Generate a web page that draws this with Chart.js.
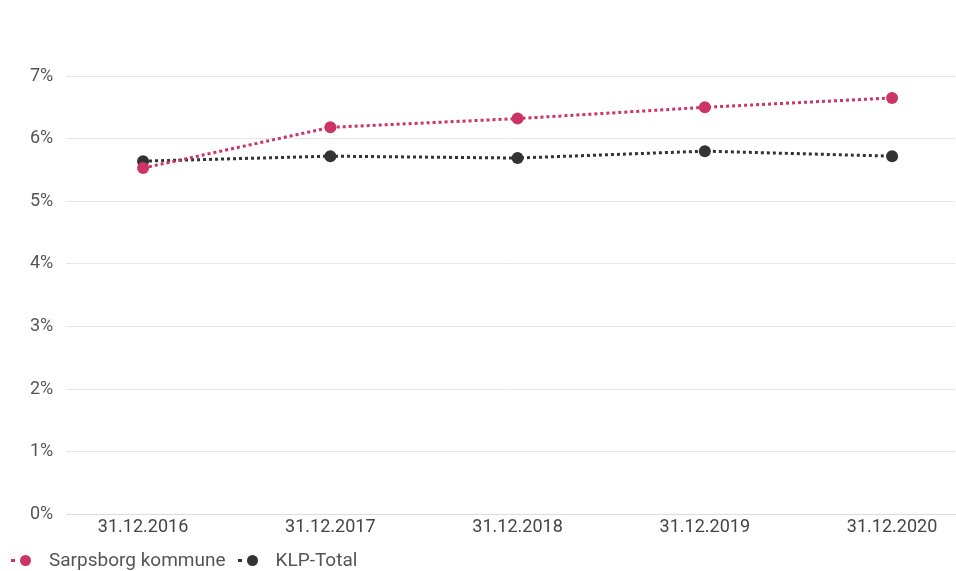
<!DOCTYPE html>
<html>
<head>
<meta charset="utf-8">
<script src="https://cdn.jsdelivr.net/npm/chart.js@4/dist/chart.umd.min.js"></script>
<style>
  html, body { margin: 0; padding: 0; background: #ffffff; overflow: hidden; }
  #wrap { position: relative; width: 956px; height: 571px; }
  #chart { display: block; }
  #legend {
    position: absolute; left: 11px; top: 548px;
    font-family: Roboto, sans-serif; font-size: 19px; line-height: 24px; color: #555555;
    display: flex; align-items: center;
  }
  .item { display: flex; align-items: center; margin-right: 12px; }
  .dash { width: 4px; height: 3px; margin-right: 5px; }
  .dot { width: 11px; height: 11px; border-radius: 50%; margin-right: 18px; }
</style>
</head>
<body>
<div id="wrap">
  <canvas id="chart"></canvas>
  <div id="legend"></div>
</div>
<script>
// Datoer (kategorier) og verdier i prosent
const labels = ['31.12.2016', '31.12.2017', '31.12.2018', '31.12.2019', '31.12.2020'];
const sarpsborg = [5.53, 6.18, 6.32, 6.50, 6.65];
const klpTotal = [5.64, 5.72, 5.69, 5.80, 5.72];
const yTicks = [0, 1, 2, 3, 4, 5, 6, 7];
const seriesNames = ['Sarpsborg kommune', 'KLP-Total'];

const PINK = '#cc3366';
const DARK = '#333333';
const FONT = 'Roboto';

const toPoints = (arr) => arr.map((v, i) => ({ x: i, y: v }));

const lineStyle = (color) => ({
  borderColor: color,
  backgroundColor: color,
  borderWidth: 3,
  borderDash: [3, 3],
  pointRadius: 6,
  pointHoverRadius: 6,
  pointBorderWidth: 0,
  fill: false,
});

const chart = new Chart(document.getElementById('chart'), {
  type: 'line',
  data: {
    datasets: [
      { label: seriesNames[0], data: toPoints(sarpsborg), ...lineStyle(PINK) },
      { label: seriesNames[1], data: toPoints(klpTotal), ...lineStyle(DARK) },
    ],
  },
  options: {
    responsive: true,
    maintainAspectRatio: false,
    animation: false,
    layout: { autoPadding: false, padding: { left: 17, right: 1, top: 76, bottom: 39 } },
    plugins: {
      legend: { display: false },
      tooltip: { enabled: false },
    },
    scales: {
      x: {
        type: 'linear',
        min: -0.41,
        max: 4.336,
        afterBuildTicks: (scale) => {
          scale.ticks = labels.map((_, i) => ({ value: i }));
        },
        afterFit: (scale) => {
          scale.paddingRight = 0;
        },
        ticks: {
          color: '#444444',
          font: { family: FONT, size: 18 },
          padding: -6,
          maxRotation: 0,
          callback: (v) => labels[v] ?? '',
        },
        grid: { display: false },
        border: { display: true, color: '#dddddd', dash: [2, 2] },
      },
      y: {
        min: 0,
        max: 7,
        afterBuildTicks: (scale) => {
          scale.ticks = yTicks.map(v => ({ value: v }));
        },
        ticks: {
          color: '#555555',
          font: { family: FONT, size: 18 },
          padding: 13,
          callback: (v) => `${v}%`,
        },
        grid: { color: '#e6e6e6', drawTicks: false },
        border: { display: false },
      },
    },
  },
});

// Legende som HTML, farger hentes fra datasettene
const legendEl = document.getElementById('legend');
chart.data.datasets.forEach(ds => {
  const item = document.createElement('div');
  item.className = 'item';
  item.innerHTML = `
    <span class="dash" style="background:${ds.borderColor}"></span>
    <span class="dot" style="background:${ds.borderColor}"></span>
    <span>${ds.label}</span>
  `;
  legendEl.appendChild(item);
});
</script>
</body>
</html>
